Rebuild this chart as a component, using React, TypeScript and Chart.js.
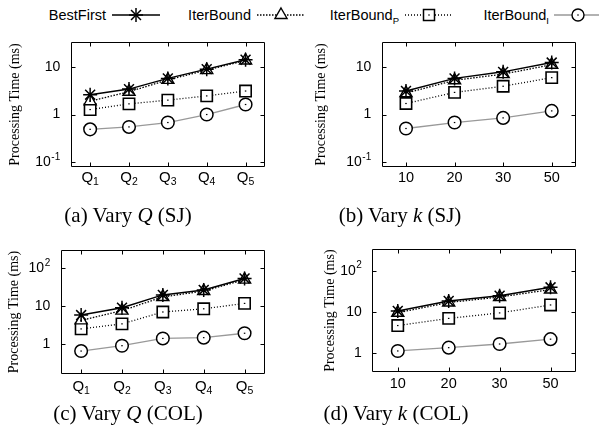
import React, { useEffect, useRef } from 'react';
import { Chart, registerables } from 'chart.js';

Chart.register(...registerables);

// ---------- data ----------
const SERIES_NAMES = ['BestFirst', 'IterBound', 'IterBound_P', 'IterBound_I'];

const Q_LABELS = ['Q1', 'Q2', 'Q3', 'Q4', 'Q5'];
const K_LABELS = ['10', '20', '30', '50'];

const Y_TICKS_SJ = [0.1, 1, 10];
const Y_TICKS_COL = [1, 10, 100];

// (a) Vary Q (SJ)
const SJ_Q_BESTFIRST = [2.6, 3.4, 5.7, 8.9, 14];
const SJ_Q_ITERBOUND = [1.9, 3.0, 5.3, 8.5, 13.5];
const SJ_Q_ITERBOUND_P = [1.27, 1.67, 2.0, 2.45, 3.1];
const SJ_Q_ITERBOUND_I = [0.49, 0.55, 0.68, 1.0, 1.62];

// (b) Vary k (SJ)
const SJ_K_BESTFIRST = [3.1, 5.7, 7.8, 12.2];
const SJ_K_ITERBOUND = [2.8, 5.2, 7.0, 11.0];
const SJ_K_ITERBOUND_P = [1.7, 2.9, 3.9, 5.9];
const SJ_K_ITERBOUND_I = [0.51, 0.68, 0.85, 1.19];

// (c) Vary Q (COL)
const COL_Q_BESTFIRST = [5.8, 9.1, 19.8, 26.8, 54];
const COL_Q_ITERBOUND = [4.2, 7.6, 17.5, 25, 50];
const COL_Q_ITERBOUND_P = [2.5, 3.4, 7.0, 8.5, 11.8];
const COL_Q_ITERBOUND_I = [0.65, 0.9, 1.4, 1.47, 1.92];

// (d) Vary k (COL)
const COL_K_BESTFIRST = [10.6, 18.5, 24.8, 39.6];
const COL_K_ITERBOUND = [9.6, 17, 23, 35];
const COL_K_ITERBOUND_P = [4.7, 7.0, 9.5, 14.8];
const COL_K_ITERBOUND_I = [1.14, 1.37, 1.68, 2.2];

// ---------- styles ----------
const SERIES_STYLES: any[] = [
  { borderColor: '#000', borderWidth: 1.5, pointStyle: 'star', pointRadius: 7, pointBorderWidth: 1.5, pointBorderColor: '#000', pointBackgroundColor: '#000' },
  { borderColor: '#000', borderWidth: 1.3, borderDash: [1.5, 1.5], pointStyle: 'triangle', pointRadius: 7, pointBorderWidth: 1.4, pointBorderColor: '#000', pointBackgroundColor: '#fff' },
  { borderColor: '#000', borderWidth: 1.3, borderDash: [1, 2], pointStyle: 'rect', pointRadius: 8, pointBorderWidth: 1.6, pointBorderColor: '#000', pointBackgroundColor: '#fff' },
  { borderColor: '#999', borderWidth: 1.3, pointStyle: 'circle', pointRadius: 6.3, pointBorderWidth: 1.5, pointBorderColor: '#000', pointBackgroundColor: '#fff' },
];

const TICK_FONT = '"Liberation Sans", Arial, Helvetica, sans-serif';
const SERIF = '"Liberation Serif", "Times New Roman", serif';

type Panel = {
  left: number; top: number; width: number; height: number;
  area: { l: number; t: number; r: number; b: number };
  labels: string[];
  series: number[][];
  yMin: number; yMax: number; yTicks: number[];
  titlePad: number; xGap: number;
};

const PANELS: Panel[] = [
  {
    left: 0, top: 25, width: 300, height: 180,
    area: { l: 70.7, t: 17.3, r: 265, b: 141.7 },
    labels: Q_LABELS,
    series: [SJ_Q_BESTFIRST, SJ_Q_ITERBOUND, SJ_Q_ITERBOUND_P, SJ_Q_ITERBOUND_I],
    yMin: 0.081, yMax: 32.4, yTicks: Y_TICKS_SJ, titlePad: 6.6, xGap: 15.5,
  },
  {
    left: 300, top: 25, width: 299, height: 180,
    area: { l: 81.7, t: 17.3, r: 276, b: 141.7 },
    labels: K_LABELS,
    series: [SJ_K_BESTFIRST, SJ_K_ITERBOUND, SJ_K_ITERBOUND_P, SJ_K_ITERBOUND_I],
    yMin: 0.081, yMax: 32.4, yTicks: Y_TICKS_SJ, titlePad: 13.3, xGap: 15,
  },
  {
    left: 0, top: 225, width: 300, height: 180,
    area: { l: 60.7, t: 25, r: 265, b: 149 },
    labels: Q_LABELS,
    series: [COL_Q_BESTFIRST, COL_Q_ITERBOUND, COL_Q_ITERBOUND_P, COL_Q_ITERBOUND_I],
    yMin: 0.161, yMax: 304, yTicks: Y_TICKS_COL, titlePad: 5.6, xGap: 17,
  },
  {
    left: 300, top: 225, width: 299, height: 180,
    area: { l: 72.3, t: 24, r: 276, b: 147.3 },
    labels: K_LABELS,
    series: [COL_K_BESTFIRST, COL_K_ITERBOUND, COL_K_ITERBOUND_P, COL_K_ITERBOUND_I],
    yMin: 0.347, yMax: 335, yTicks: Y_TICKS_COL, titlePad: 21.6, xGap: 15.4,
  },
];

const X_AXIS_H = 30;

function drawYLabel(ctx: CanvasRenderingContext2D, v: number, rx: number, py: number) {
  const e = Math.round(Math.log10(v));
  let base = '10';
  let sup = '';
  if (e === 0) base = '1';
  else if (e !== 1) sup = String(e);
  ctx.font = `14px ${TICK_FONT}`;
  const wb = ctx.measureText(base).width;
  ctx.font = `10px ${TICK_FONT}`;
  const ws = sup ? ctx.measureText(sup).width + 0.5 : 0;
  const start = rx - wb - ws;
  ctx.textAlign = 'left';
  ctx.textBaseline = 'middle';
  ctx.font = `14px ${TICK_FONT}`;
  ctx.fillText(base, start, py);
  if (sup) {
    ctx.font = `10px ${TICK_FONT}`;
    ctx.fillText(sup, start + wb + 0.5, py - 5);
  }
}

function drawXLabel(ctx: CanvasRenderingContext2D, label: string, cx: number, baseY: number) {
  const m = label.match(/^([A-Za-z]+)(\d+)$/);
  ctx.textBaseline = 'alphabetic';
  ctx.textAlign = 'left';
  if (m) {
    ctx.font = `15px ${TICK_FONT}`;
    const wb = ctx.measureText(m[1]).width;
    ctx.font = `10.5px ${TICK_FONT}`;
    const ws = ctx.measureText(m[2]).width;
    const start = cx - (wb + ws) / 2;
    ctx.font = `15px ${TICK_FONT}`;
    ctx.fillText(m[1], start, baseY);
    ctx.font = `10.5px ${TICK_FONT}`;
    ctx.fillText(m[2], start + wb, baseY + 3);
  } else {
    ctx.font = `14.5px ${TICK_FONT}`;
    const w = ctx.measureText(label).width;
    ctx.fillText(label, cx - w / 2, baseY);
  }
}

const framePlugin = {
  id: 'frame',
  afterDatasetsDraw(chart: any, _args: any, opts: any) {
    const { ctx, chartArea: a, scales } = chart;
    const xs = scales.x;
    const ys = scales.y;
    ctx.save();
    // center dots on hollow markers
    ctx.fillStyle = '#000';
    chart.data.datasets.forEach((_d: any, i: number) => {
      if (i === 0) return;
      const meta = chart.getDatasetMeta(i);
      meta.data.forEach((pt: any) => {
        ctx.fillRect(pt.x - 0.75, pt.y - 0.6, 1.5, 1.2);
      });
    });
    const L = Math.round(a.left) + 0.5;
    const R = Math.round(a.right) - 0.5;
    const T = Math.round(a.top) + 0.5;
    const B = Math.round(a.bottom) - 0.5;
    ctx.strokeStyle = '#000';
    ctx.lineWidth = 1;
    ctx.setLineDash([]);
    ctx.beginPath();
    ctx.rect(L, T, R - L, B - T);
    const tl = 4;
    ys.ticks.forEach((t: any) => {
      const py = Math.round(ys.getPixelForValue(t.value)) + 0.5;
      ctx.moveTo(L, py); ctx.lineTo(L + tl, py);
      ctx.moveTo(R, py); ctx.lineTo(R - tl, py);
    });
    chart.data.labels.forEach((_l: any, i: number) => {
      const px = Math.round(xs.getPixelForValue(i)) + 0.5;
      ctx.moveTo(px, B); ctx.lineTo(px, B - tl);
      ctx.moveTo(px, T); ctx.lineTo(px, T + tl);
    });
    ctx.stroke();
    // tick labels
    ctx.fillStyle = '#000';
    ys.ticks.forEach((t: any) => {
      drawYLabel(ctx, t.value, a.left - 10.5, ys.getPixelForValue(t.value));
    });
    chart.data.labels.forEach((l: string, i: number) => {
      drawXLabel(ctx, l, xs.getPixelForValue(i), a.bottom + opts.xGap);
    });
    ctx.restore();
  },
};

function PanelChart({ p }: { p: Panel }) {
  const ref = useRef<HTMLCanvasElement | null>(null);
  useEffect(() => {
    if (!ref.current) return;
    const chart = new Chart(ref.current, {
      type: 'line',
      data: {
        labels: p.labels,
        datasets: SERIES_NAMES.map((name, i) => ({
          label: name,
          data: p.series[i],
          fill: false,
          tension: 0,
          ...SERIES_STYLES[i],
        })),
      },
      options: {
        animation: false,
        responsive: false,
        devicePixelRatio: 1,
        layout: {
          padding: {
            left: 0,
            top: p.area.t,
            right: p.width - p.area.r,
            bottom: p.height - p.area.b - X_AXIS_H,
          },
        },
        plugins: {
          legend: { display: false },
          tooltip: { enabled: false },
          frame: { xGap: p.xGap },
        } as any,
        scales: {
          x: {
            type: 'category',
            offset: true,
            grid: { display: false, drawTicks: false },
            border: { display: false },
            ticks: { display: false },
            afterFit: (s: any) => { s.height = X_AXIS_H; },
          },
          y: {
            type: 'logarithmic',
            min: p.yMin,
            max: p.yMax,
            bounds: 'data',
            grid: { display: false, drawTicks: false },
            border: { display: false },
            ticks: { display: false },
            afterBuildTicks: (s: any) => { s.ticks = p.yTicks.map((v) => ({ value: v })); },
            afterFit: (s: any) => { s.width = p.area.l; },
            title: {
              display: true,
              text: 'Processing Time (ms)',
              color: '#000',
              font: { family: SERIF, size: 14 },
              padding: { top: p.titlePad, bottom: 0 },
            },
          },
        } as any,
      },
      plugins: [framePlugin as any],
    });
    return () => chart.destroy();
  }, [p]);
  return (
    <canvas
      ref={ref}
      width={p.width}
      height={p.height}
      style={{ position: 'absolute', left: p.left, top: p.top, width: p.width, height: p.height }}
    />
  );
}

// legend layout
const LEGEND_ITEMS = [
  { textRight: 106, lineStart: 112, base: 'BestFirst', sub: '' },
  { textRight: 251, lineStart: 257, base: 'IterBound', sub: '' },
  { textRight: 399, lineStart: 405, base: 'IterBound', sub: 'P' },
  { textRight: 549, lineStart: 554, base: 'IterBound', sub: 'I' },
];
const LEGEND_LINE = 48;
const LEGEND_Y = 15;

function LegendMarker({ i, cx, cy }: { i: number; cx: number; cy: number }) {
  if (i === 0) {
    const r = 7;
    const d = r * Math.SQRT1_2;
    return (
      <g stroke="#000" strokeWidth={1.5}>
        <line x1={cx - r} y1={cy} x2={cx + r} y2={cy} />
        <line x1={cx} y1={cy - r} x2={cx} y2={cy + r} />
        <line x1={cx - d} y1={cy - d} x2={cx + d} y2={cy + d} />
        <line x1={cx - d} y1={cy + d} x2={cx + d} y2={cy - d} />
      </g>
    );
  }
  if (i === 1) {
    const r = 7;
    const pts = [0, 120, 240].map((a) => {
      const rad = (a * Math.PI) / 180;
      return `${cx + Math.sin(rad) * r},${cy - Math.cos(rad) * r}`;
    }).join(' ');
    return <polygon points={pts} fill="#fff" stroke="#000" strokeWidth={1.4} />;
  }
  if (i === 2) {
    const s = 5.5;
    return (
      <g>
        <rect x={cx - s} y={cy - s} width={2 * s} height={2 * s} fill="#fff" stroke="#000" strokeWidth={1.5} />
        <rect x={cx - 0.75} y={cy - 0.6} width={1.5} height={1.2} fill="#000" />
      </g>
    );
  }
  return (
    <g>
      <circle cx={cx} cy={cy} r={6} fill="#fff" stroke="#000" strokeWidth={1.4} />
      <rect x={cx - 0.75} y={cy - 0.6} width={1.5} height={1.2} fill="#000" />
    </g>
  );
}

function Legend() {
  return (
    <>
      <svg width={599} height={30} style={{ position: 'absolute', left: 0, top: 0 }}>
        {LEGEND_ITEMS.map((it, i) => {
          const st = SERIES_STYLES[i];
          const cx = it.lineStart + LEGEND_LINE / 2;
          return (
            <g key={i}>
              <line
                x1={it.lineStart}
                y1={LEGEND_Y}
                x2={it.lineStart + LEGEND_LINE}
                y2={LEGEND_Y}
                stroke={st.borderColor}
                strokeWidth={st.borderWidth}
                strokeDasharray={st.borderDash ? st.borderDash.join(' ') : undefined}
              />
              <LegendMarker i={i} cx={cx} cy={LEGEND_Y} />
            </g>
          );
        })}
      </svg>
      {LEGEND_ITEMS.map((it, i) => (
        <div
          key={i}
          style={{
            position: 'absolute',
            right: 599 - it.textRight,
            top: LEGEND_Y - 9,
            height: 18,
            lineHeight: '18px',
            fontFamily: TICK_FONT,
            fontSize: 14.5,
            color: '#000',
            whiteSpace: 'nowrap',
          }}
        >
          {it.base}
          {it.sub ? (
            <span style={{ fontSize: 9.5, position: 'relative', top: 4 }}>{it.sub}</span>
          ) : null}
        </div>
      ))}
    </>
  );
}

const CAPTIONS = [
  { cx: 128, cy: 215, pre: '(a) Vary ', v: 'Q', post: ' (SJ)' },
  { cx: 400, cy: 215, pre: '(b) Vary ', v: 'k', post: ' (SJ)' },
  { cx: 128, cy: 413, pre: '(c) Vary ', v: 'Q', post: ' (COL)' },
  { cx: 396, cy: 413, pre: '(d) Vary ', v: 'k', post: ' (COL)' },
];

export default function App() {
  return (
    <div
      style={{
        position: 'fixed',
        left: 0,
        top: 0,
        width: 599,
        height: 441,
        background: '#fff',
        overflow: 'hidden',
      }}
    >
      <Legend />
      {PANELS.map((p, i) => (
        <PanelChart key={i} p={p} />
      ))}
      {CAPTIONS.map((c, i) => (
        <div
          key={i}
          style={{
            position: 'absolute',
            left: c.cx - 130,
            width: 260,
            top: c.cy - 12,
            height: 24,
            lineHeight: '24px',
            textAlign: 'center',
            fontFamily: SERIF,
            fontSize: 21,
            color: '#000',
            whiteSpace: 'pre',
          }}
        >
          {c.pre}
          <i>{c.v}</i>
          {c.post}
        </div>
      ))}
    </div>
  );
}
